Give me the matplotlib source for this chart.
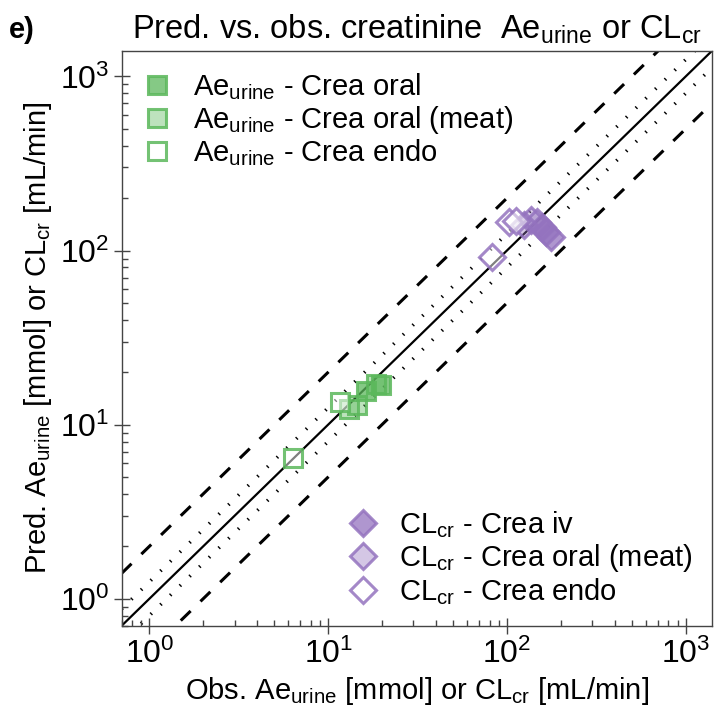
import numpy as np
import matplotlib
matplotlib.use("Agg")
import matplotlib.pyplot as plt

plt.rcParams['font.family'] = ['Liberation Sans', 'DejaVu Sans']
plt.rcParams['mathtext.fontset'] = 'custom'
plt.rcParams['mathtext.rm'] = 'Liberation Sans'
plt.rcParams['mathtext.it'] = 'Liberation Sans:italic'
plt.rcParams['mathtext.bf'] = 'Liberation Sans:bold'

# Ae urine (green squares): observed / predicted
ae_oral_obs = [16.3, 19.8]
ae_oral_pred = [15.6, 17.0]
ae_meat_obs = [13.1, 14.5, 18.5]
ae_meat_pred = [12.3, 13.0, 17.2]
ae_endo_obs = [6.4, 11.6]
ae_endo_pred = [6.46, 13.5]

# CLcr (purple diamonds): observed / predicted
cl_iv_obs = [177, 166, 157]
cl_iv_pred = [120, 128, 136]
cl_meat_obs = [137, 148, 125]
cl_meat_pred = [150, 145, 140]
cl_endo_obs = [82, 103, 112]
cl_endo_pred = [92, 146, 148]

green = (0.36, 0.72, 0.36)
purple = (0.58, 0.45, 0.75)

def rgba(c, a):
    return (c[0], c[1], c[2], a)

fig = plt.figure(figsize=(7.14, 7.13), dpi=100)
ax = fig.add_axes([0.1704, 0.1224, 0.8266, 0.8061])

lims = (0.7, 1400)
xx = np.array(lims)
ax.plot(xx, xx, color='black', lw=1.6, zorder=1)
for f in (1.25, 1 / 1.25):
    ax.plot(xx, xx * f, color='black', lw=2.5, linestyle=(0, (0.4, 3.5)), zorder=1)
for f in (2.0, 0.5):
    ax.plot(xx, xx * f, color='black', lw=2.2, linestyle=(0, (4.5, 4.5)), zorder=1)

sq = dict(marker='s', linestyle='none', markersize=13, markeredgewidth=2.2)
dm = dict(marker='D', linestyle='none', markersize=13, markeredgewidth=2.2)

h1 = ax.plot(ae_oral_obs, ae_oral_pred, mfc=rgba(green, 0.75), mec=rgba(green, 0.85), **sq)[0]
h2 = ax.plot(ae_meat_obs, ae_meat_pred, mfc=rgba(green, 0.4), mec=rgba(green, 0.85), **sq)[0]
h3 = ax.plot(ae_endo_obs, ae_endo_pred, mfc=(1, 1, 1, 0.5), mec=rgba(green, 0.85), **sq)[0]

h4 = ax.plot(cl_iv_obs, cl_iv_pred, mfc=rgba(purple, 0.75), mec=rgba(purple, 0.85), **dm)[0]
h5 = ax.plot(cl_meat_obs, cl_meat_pred, mfc=rgba(purple, 0.4), mec=rgba(purple, 0.85), **dm)[0]
h6 = ax.plot(cl_endo_obs, cl_endo_pred, mfc=(1, 1, 1, 0.5), mec=rgba(purple, 0.85), **dm)[0]

ax.set_xscale('log')
ax.set_yscale('log')
ax.set_xlim(*lims)
ax.set_ylim(*lims)

for s in ax.spines.values():
    s.set_color('#444444')
    s.set_linewidth(1.0)
ax.tick_params(which='major', direction='inout', length=11, width=1, labelsize=23, color='#444444')
ax.tick_params(which='minor', direction='in', length=4.5, width=1, color='#444444')

ax.set_xlabel('Obs. Ae$_\\mathrm{urine}$ [mmol] or CL$_\\mathrm{cr}$ [mL/min]', fontsize=21, labelpad=4)
ax.set_ylabel('Pred. Ae$_\\mathrm{urine}$ [mmol] or CL$_\\mathrm{cr}$ [mL/min]', fontsize=21, labelpad=4)
ax.set_title('Pred. vs. obs. creatinine  Ae$_\\mathrm{urine}$ or CL$_\\mathrm{cr}$', fontsize=23.5, pad=9)
fig.text(0.013, 0.947, 'e)', fontsize=21, fontweight='bold')

leg_kw = dict(frameon=False, fontsize=21, handlelength=1.0, handletextpad=0.75,
              labelspacing=0.06, markerscale=1.0)
leg1 = ax.legend([h1, h2, h3],
                 ['Ae$_\\mathrm{urine}$ - Crea oral',
                  'Ae$_\\mathrm{urine}$ - Crea oral (meat)',
                  'Ae$_\\mathrm{urine}$ - Crea endo'],
                 loc='upper left', borderaxespad=0.3, **leg_kw)
ax.add_artist(leg1)
ax.legend([h4, h5, h6],
          ['CL$_\\mathrm{cr}$ - Crea iv',
           'CL$_\\mathrm{cr}$ - Crea oral (meat)',
           'CL$_\\mathrm{cr}$ - Crea endo'],
          loc='lower right', borderaxespad=0.25, **leg_kw)

fig.savefig('out.png', dpi=100)
